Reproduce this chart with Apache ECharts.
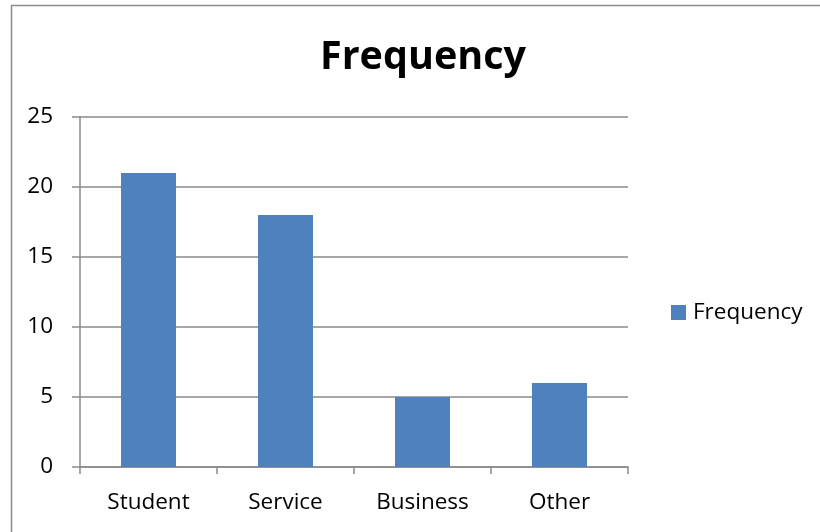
<!DOCTYPE html>
<html>
<head>
<meta charset="utf-8">
<script src="https://cdn.jsdelivr.net/npm/echarts@6/dist/echarts.min.js"></script>
<style>
  html, body { margin: 0; padding: 0; background: #fff; }
  #chart { width: 820px; height: 532px; }
</style>
</head>
<body>
<div id="chart"></div>
<script>
// Occupation categories and how often each was reported
const categories = ['Student', 'Service', 'Business', 'Other'];
const frequency = [21, 18, 5, 6];
const yTicks = { min: 0, max: 25, interval: 5 };

const font = '"Open Sans", "Noto Sans", sans-serif';
const axisGray = '#8a8a8a';

const chart = echarts.init(document.getElementById('chart'), null, { renderer: 'canvas' });
chart.setOption({
  animation: false,
  backgroundColor: '#fff',
  graphic: [{
    type: 'rect',
    shape: { x: 11.5, y: 5.5, width: 830, height: 540 },
    style: { fill: 'none', stroke: '#8c8c8c', lineWidth: 1.5 },
    silent: true
  }],
  title: {
    text: 'Frequency',
    left: 418, top: 33,
    textAlign: 'center',
    textStyle: { fontFamily: font, fontSize: 39.5, fontWeight: 'bold', color: '#000' }
  },
  legend: {
    data: ['Frequency'],
    orient: 'vertical',
    left: 671, top: 301,
    padding: 0,
    itemWidth: 15, itemHeight: 15, itemGap: 0,
    icon: 'rect',
    textStyle: { fontFamily: font, fontSize: 22.5, color: '#000', padding: [0, 0, 0, 2] }
  },
  grid: { left: 80, right: 192, top: 117, bottom: 65, containLabel: false },
  xAxis: {
    type: 'category',
    data: categories,
    axisLine: { lineStyle: { color: axisGray, width: 1.5 } },
    axisTick: { show: true, length: 7, lineStyle: { color: axisGray, width: 1.5 } },
    axisLabel: { fontFamily: font, fontSize: 22.5, color: '#000', margin: 24 }
  },
  yAxis: {
    type: 'value',
    min: yTicks.min, max: yTicks.max, interval: yTicks.interval,
    axisLine: { show: true, lineStyle: { color: axisGray, width: 1.5 } },
    axisTick: { show: true, length: 8, lineStyle: { color: axisGray, width: 1.5 } },
    splitLine: { lineStyle: { color: axisGray, width: 1.5 } },
    axisLabel: { fontFamily: font, fontSize: 22.5, color: '#000', margin: 27 }
  },
  series: [{
    name: 'Frequency',
    type: 'bar',
    data: frequency,
    barWidth: 55,
    itemStyle: { color: '#4F81BD' }
  }]
});
</script>
</body>
</html>
